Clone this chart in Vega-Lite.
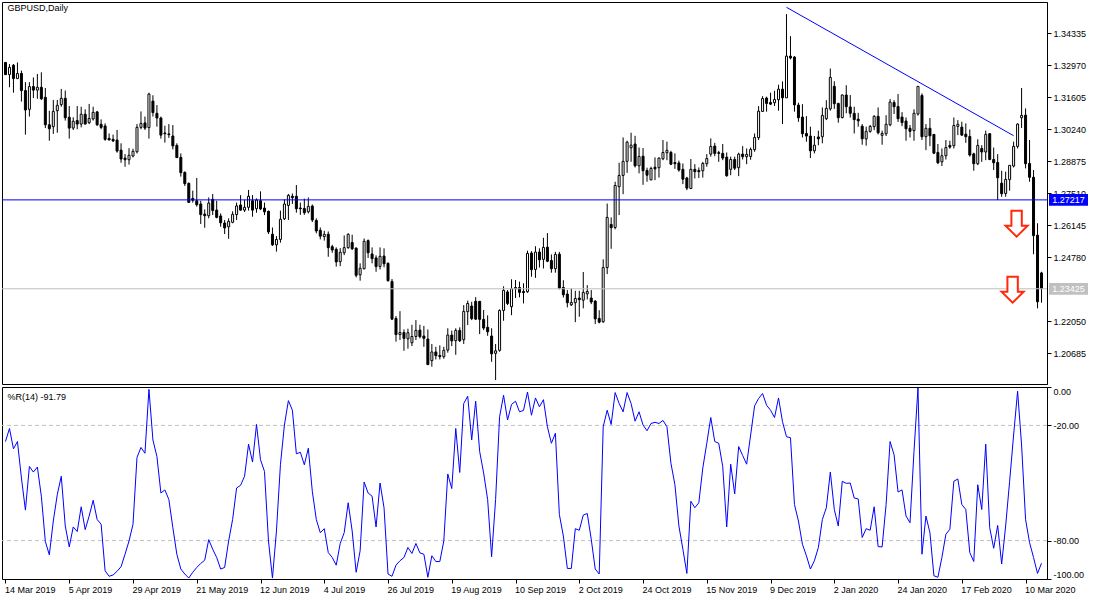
{"$schema":"https://vega.github.io/schema/vega-lite/v6.json","background":"white","padding":{"left":1,"top":1,"right":0,"bottom":0},"spacing":0,"config":{"view":{"stroke":"black","strokeWidth":1},"font":"Liberation Sans","axis":{"labelFont":"Liberation Sans","labelFontSize":9,"labelColor":"black","tickColor":"black","domainColor":"black","grid":false,"title":null,"tickSize":4,"labelOverlap":false,"labelFlush":false,"labelBound":false}},
"datasets":{"bars":[
{"d":"14 Mar 2019","o":1.3308,"h":1.3308,"l":1.3256,"c":1.3256,"r":-28.4},
{"d":"15 Mar 2019","o":1.3256,"h":1.3301,"l":1.3202,"c":1.3287,"r":-21.6},
{"d":"18 Mar 2019","o":1.3296,"h":1.3301,"l":1.3179,"c":1.3239,"r":-32.2},
{"d":"19 Mar 2019","o":1.3239,"h":1.3308,"l":1.3239,"c":1.3261,"r":-28.4},
{"d":"20 Mar 2019","o":1.3261,"h":1.3273,"l":1.3141,"c":1.3188,"r":-47.4},
{"d":"21 Mar 2019","o":1.3188,"h":1.3224,"l":1.3,"c":1.3105,"r":-64.1},
{"d":"22 Mar 2019","o":1.3108,"h":1.3224,"l":1.3077,"c":1.3205,"r":-41.4},
{"d":"25 Mar 2019","o":1.3205,"h":1.3244,"l":1.3156,"c":1.319,"r":-44.3},
{"d":"26 Mar 2019","o":1.319,"h":1.3259,"l":1.3153,"c":1.3202,"r":-41.7},
{"d":"27 Mar 2019","o":1.3202,"h":1.3266,"l":1.3148,"c":1.3153,"r":-56.9},
{"d":"28 Mar 2019","o":1.3159,"h":1.3199,"l":1.3028,"c":1.3042,"r":-80.5},
{"d":"29 Mar 2019","o":1.3042,"h":1.3102,"l":1.2974,"c":1.3025,"r":-87.4},
{"d":"1 Apr 2019","o":1.3034,"h":1.3148,"l":1.3003,"c":1.3099,"r":-69.8},
{"d":"2 Apr 2019","o":1.3102,"h":1.3148,"l":1.3008,"c":1.3125,"r":-56.0},
{"d":"3 Apr 2019","o":1.3128,"h":1.3195,"l":1.3119,"c":1.3155,"r":-46.5},
{"d":"4 Apr 2019","o":1.3155,"h":1.3188,"l":1.306,"c":1.3072,"r":-72.4},
{"d":"5 Apr 2019","o":1.3074,"h":1.3122,"l":1.2983,"c":1.3028,"r":-83.3},
{"d":"8 Apr 2019","o":1.3028,"h":1.3074,"l":1.302,"c":1.3057,"r":-72.9},
{"d":"9 Apr 2019","o":1.306,"h":1.3122,"l":1.3023,"c":1.3045,"r":-75.3},
{"d":"10 Apr 2019","o":1.3045,"h":1.3119,"l":1.3031,"c":1.3087,"r":-62.4},
{"d":"11 Apr 2019","o":1.3087,"h":1.3108,"l":1.3045,"c":1.3045,"r":-74.3},
{"d":"12 Apr 2019","o":1.3051,"h":1.3131,"l":1.3045,"c":1.3069,"r":-67.2},
{"d":"15 Apr 2019","o":1.3067,"h":1.3119,"l":1.306,"c":1.3095,"r":-59.0},
{"d":"16 Apr 2019","o":1.3097,"h":1.3101,"l":1.3037,"c":1.3042,"r":-69.0},
{"d":"17 Apr 2019","o":1.3044,"h":1.3065,"l":1.3023,"c":1.3031,"r":-71.5},
{"d":"18 Apr 2019","o":1.3037,"h":1.3048,"l":1.2974,"c":1.298,"r":-95.7},
{"d":"19 Apr 2019","o":1.2984,"h":1.3005,"l":1.2977,"c":1.2977,"r":-98.6},
{"d":"22 Apr 2019","o":1.298,"h":1.3,"l":1.2969,"c":1.2973,"r":-97.9},
{"d":"23 Apr 2019","o":1.2977,"h":1.302,"l":1.2923,"c":1.293,"r":-96.0},
{"d":"24 Apr 2019","o":1.2934,"h":1.2963,"l":1.288,"c":1.2896,"r":-93.6},
{"d":"25 Apr 2019","o":1.29,"h":1.2917,"l":1.2863,"c":1.2893,"r":-87.1},
{"d":"26 Apr 2019","o":1.2893,"h":1.2942,"l":1.2872,"c":1.2912,"r":-80.2},
{"d":"29 Apr 2019","o":1.2909,"h":1.294,"l":1.2903,"c":1.2929,"r":-71.5},
{"d":"30 Apr 2019","o":1.2927,"h":1.3045,"l":1.292,"c":1.3031,"r":-36.7},
{"d":"1 May 2019","o":1.3031,"h":1.3099,"l":1.3023,"c":1.3048,"r":-31.5},
{"d":"2 May 2019","o":1.305,"h":1.3077,"l":1.302,"c":1.3028,"r":-34.5},
{"d":"3 May 2019","o":1.303,"h":1.3179,"l":1.2983,"c":1.3173,"r":-1.2},
{"d":"6 May 2019","o":1.3143,"h":1.3168,"l":1.3077,"c":1.3094,"r":-27.6},
{"d":"7 May 2019","o":1.3091,"h":1.3126,"l":1.3034,"c":1.3071,"r":-36.2},
{"d":"8 May 2019","o":1.3071,"h":1.3077,"l":1.2983,"c":1.2998,"r":-55.2},
{"d":"9 May 2019","o":1.3007,"h":1.3038,"l":1.2966,"c":1.3004,"r":-53.6},
{"d":"10 May 2019","o":1.3003,"h":1.3045,"l":1.2986,"c":1.3,"r":-58.6},
{"d":"13 May 2019","o":1.2994,"h":1.3041,"l":1.2937,"c":1.2952,"r":-73.3},
{"d":"14 May 2019","o":1.2954,"h":1.2963,"l":1.2902,"c":1.2902,"r":-87.1},
{"d":"15 May 2019","o":1.2903,"h":1.292,"l":1.2821,"c":1.2838,"r":-94.8},
{"d":"16 May 2019","o":1.2839,"h":1.2843,"l":1.2781,"c":1.2791,"r":-97.4},
{"d":"17 May 2019","o":1.2792,"h":1.2796,"l":1.271,"c":1.2711,"r":-99.5},
{"d":"20 May 2019","o":1.2728,"h":1.2761,"l":1.271,"c":1.272,"r":-96.5},
{"d":"21 May 2019","o":1.2718,"h":1.2815,"l":1.2693,"c":1.2701,"r":-94.0},
{"d":"22 May 2019","o":1.2704,"h":1.2718,"l":1.2619,"c":1.2659,"r":-91.9},
{"d":"23 May 2019","o":1.2661,"h":1.2681,"l":1.2603,"c":1.2654,"r":-90.2},
{"d":"24 May 2019","o":1.2654,"h":1.2732,"l":1.2643,"c":1.2708,"r":-79.5},
{"d":"27 May 2019","o":1.2724,"h":1.2747,"l":1.2657,"c":1.2676,"r":-84.5},
{"d":"28 May 2019","o":1.2678,"h":1.2718,"l":1.2643,"c":1.2647,"r":-88.8},
{"d":"29 May 2019","o":1.2653,"h":1.2664,"l":1.2607,"c":1.2624,"r":-94.8},
{"d":"30 May 2019","o":1.2623,"h":1.2636,"l":1.2576,"c":1.2602,"r":-94.0},
{"d":"31 May 2019","o":1.2607,"h":1.2643,"l":1.2556,"c":1.263,"r":-80.2},
{"d":"3 Jun 2019","o":1.2626,"h":1.2673,"l":1.2622,"c":1.266,"r":-69.0},
{"d":"4 Jun 2019","o":1.2659,"h":1.271,"l":1.2636,"c":1.2696,"r":-52.6},
{"d":"5 Jun 2019","o":1.27,"h":1.2742,"l":1.2676,"c":1.2678,"r":-51.2},
{"d":"6 Jun 2019","o":1.2678,"h":1.2721,"l":1.267,"c":1.269,"r":-46.5},
{"d":"7 Jun 2019","o":1.269,"h":1.2764,"l":1.2676,"c":1.2737,"r":-29.8},
{"d":"10 Jun 2019","o":1.2718,"h":1.2742,"l":1.265,"c":1.2678,"r":-39.1},
{"d":"11 Jun 2019","o":1.2684,"h":1.2728,"l":1.2667,"c":1.2721,"r":-19.5},
{"d":"12 Jun 2019","o":1.2718,"h":1.2758,"l":1.2678,"c":1.2683,"r":-37.9},
{"d":"13 Jun 2019","o":1.2687,"h":1.271,"l":1.2657,"c":1.2671,"r":-44.0},
{"d":"14 Jun 2019","o":1.2673,"h":1.2676,"l":1.2576,"c":1.2585,"r":-80.2},
{"d":"17 Jun 2019","o":1.2575,"h":1.2604,"l":1.2525,"c":1.253,"r":-99.5},
{"d":"18 Jun 2019","o":1.253,"h":1.2567,"l":1.2501,"c":1.2553,"r":-75.0},
{"d":"19 Jun 2019","o":1.2553,"h":1.2676,"l":1.2539,"c":1.2639,"r":-40.5},
{"d":"20 Jun 2019","o":1.2641,"h":1.2724,"l":1.2636,"c":1.2704,"r":-19.8},
{"d":"21 Jun 2019","o":1.2698,"h":1.2747,"l":1.2636,"c":1.2741,"r":-7.1},
{"d":"24 Jun 2019","o":1.2737,"h":1.2749,"l":1.2704,"c":1.2731,"r":-12.1},
{"d":"25 Jun 2019","o":1.2737,"h":1.2785,"l":1.2667,"c":1.2684,"r":-34.8},
{"d":"26 Jun 2019","o":1.2687,"h":1.271,"l":1.2658,"c":1.2684,"r":-34.0},
{"d":"27 Jun 2019","o":1.2685,"h":1.2727,"l":1.2658,"c":1.2667,"r":-40.5},
{"d":"28 Jun 2019","o":1.2671,"h":1.2732,"l":1.2664,"c":1.2694,"r":-31.9},
{"d":"1 Jul 2019","o":1.2695,"h":1.2702,"l":1.2627,"c":1.2636,"r":-54.3},
{"d":"2 Jul 2019","o":1.2634,"h":1.2643,"l":1.2579,"c":1.2589,"r":-69.0},
{"d":"3 Jul 2019","o":1.2592,"h":1.2604,"l":1.2553,"c":1.2567,"r":-75.9},
{"d":"4 Jul 2019","o":1.2565,"h":1.259,"l":1.2548,"c":1.2575,"r":-73.8},
{"d":"5 Jul 2019","o":1.2575,"h":1.2587,"l":1.2479,"c":1.2518,"r":-86.2},
{"d":"8 Jul 2019","o":1.2522,"h":1.253,"l":1.2496,"c":1.2508,"r":-88.8},
{"d":"9 Jul 2019","o":1.2511,"h":1.2519,"l":1.2437,"c":1.2457,"r":-92.8},
{"d":"10 Jul 2019","o":1.2458,"h":1.2516,"l":1.2439,"c":1.2498,"r":-81.5},
{"d":"11 Jul 2019","o":1.2496,"h":1.257,"l":1.2486,"c":1.2518,"r":-75.9},
{"d":"12 Jul 2019","o":1.2518,"h":1.2579,"l":1.2513,"c":1.2575,"r":-60.3},
{"d":"15 Jul 2019","o":1.254,"h":1.2573,"l":1.2508,"c":1.2513,"r":-75.0},
{"d":"16 Jul 2019","o":1.2516,"h":1.2519,"l":1.2391,"c":1.24,"r":-96.5},
{"d":"17 Jul 2019","o":1.2402,"h":1.2451,"l":1.2377,"c":1.243,"r":-85.3},
{"d":"18 Jul 2019","o":1.2428,"h":1.2557,"l":1.2425,"c":1.2545,"r":-49.5},
{"d":"19 Jul 2019","o":1.2548,"h":1.2553,"l":1.2474,"c":1.2496,"r":-55.2},
{"d":"22 Jul 2019","o":1.2491,"h":1.2519,"l":1.2451,"c":1.2471,"r":-56.9},
{"d":"23 Jul 2019","o":1.2474,"h":1.2485,"l":1.2415,"c":1.2437,"r":-72.9},
{"d":"24 Jul 2019","o":1.2438,"h":1.2519,"l":1.2425,"c":1.2481,"r":-50.0},
{"d":"25 Jul 2019","o":1.2482,"h":1.2515,"l":1.2434,"c":1.2449,"r":-62.9},
{"d":"26 Jul 2019","o":1.2451,"h":1.2455,"l":1.2373,"c":1.2377,"r":-97.4},
{"d":"29 Jul 2019","o":1.2374,"h":1.2384,"l":1.2209,"c":1.2213,"r":-98.6},
{"d":"30 Jul 2019","o":1.2216,"h":1.2226,"l":1.2117,"c":1.2147,"r":-92.8},
{"d":"31 Jul 2019","o":1.2147,"h":1.2247,"l":1.2124,"c":1.2156,"r":-90.5},
{"d":"1 Aug 2019","o":1.2156,"h":1.2169,"l":1.2078,"c":1.2131,"r":-88.8},
{"d":"2 Aug 2019","o":1.2129,"h":1.2172,"l":1.2087,"c":1.2155,"r":-83.6},
{"d":"5 Aug 2019","o":1.2112,"h":1.2189,"l":1.2098,"c":1.2139,"r":-86.7},
{"d":"6 Aug 2019","o":1.2139,"h":1.2209,"l":1.2124,"c":1.2165,"r":-81.5},
{"d":"7 Aug 2019","o":1.2166,"h":1.2189,"l":1.2131,"c":1.2138,"r":-86.4},
{"d":"8 Aug 2019","o":1.2141,"h":1.2184,"l":1.2095,"c":1.2131,"r":-87.1},
{"d":"9 Aug 2019","o":1.2128,"h":1.2169,"l":1.2019,"c":1.2019,"r":-99.1},
{"d":"12 Aug 2019","o":1.2036,"h":1.2107,"l":1.201,"c":1.2073,"r":-87.9},
{"d":"13 Aug 2019","o":1.2073,"h":1.2095,"l":1.2041,"c":1.2057,"r":-90.9},
{"d":"14 Aug 2019","o":1.2058,"h":1.2101,"l":1.2041,"c":1.2053,"r":-90.9},
{"d":"15 Aug 2019","o":1.2053,"h":1.2095,"l":1.2044,"c":1.208,"r":-80.2},
{"d":"16 Aug 2019","o":1.2081,"h":1.2174,"l":1.207,"c":1.2145,"r":-45.3},
{"d":"19 Aug 2019","o":1.2145,"h":1.2164,"l":1.2098,"c":1.212,"r":-52.9},
{"d":"20 Aug 2019","o":1.2121,"h":1.2174,"l":1.2061,"c":1.2165,"r":-21.6},
{"d":"21 Aug 2019","o":1.2165,"h":1.2178,"l":1.2115,"c":1.2121,"r":-44.5},
{"d":"22 Aug 2019","o":1.2125,"h":1.2273,"l":1.2107,"c":1.2246,"r":-8.6},
{"d":"23 Aug 2019","o":1.2245,"h":1.2292,"l":1.2188,"c":1.228,"r":-4.8},
{"d":"26 Aug 2019","o":1.2269,"h":1.2287,"l":1.2209,"c":1.2215,"r":-27.6},
{"d":"27 Aug 2019","o":1.2289,"h":1.2307,"l":1.2209,"c":1.2213,"r":-7.4},
{"d":"28 Aug 2019","o":1.2289,"h":1.229,"l":1.2149,"c":1.2212,"r":-33.6},
{"d":"29 Aug 2019","o":1.2212,"h":1.2252,"l":1.2166,"c":1.2175,"r":-44.8},
{"d":"30 Aug 2019","o":1.2178,"h":1.2229,"l":1.2142,"c":1.2159,"r":-58.6},
{"d":"2 Sep 2019","o":1.2141,"h":1.2174,"l":1.2031,"c":1.2065,"r":-88.4},
{"d":"3 Sep 2019","o":1.2067,"h":1.2107,"l":1.1953,"c":1.2078,"r":-58.6},
{"d":"4 Sep 2019","o":1.208,"h":1.2255,"l":1.2074,"c":1.225,"r":-15.5},
{"d":"5 Sep 2019","o":1.225,"h":1.2353,"l":1.2206,"c":1.2336,"r":-4.3},
{"d":"6 Sep 2019","o":1.2329,"h":1.2337,"l":1.2273,"c":1.228,"r":-17.2},
{"d":"9 Sep 2019","o":1.2266,"h":1.2383,"l":1.223,"c":1.2343,"r":-9.1},
{"d":"10 Sep 2019","o":1.2348,"h":1.238,"l":1.2303,"c":1.2343,"r":-7.4},
{"d":"11 Sep 2019","o":1.2348,"h":1.2373,"l":1.2306,"c":1.2327,"r":-12.9},
{"d":"12 Sep 2019","o":1.2331,"h":1.2366,"l":1.228,"c":1.2326,"r":-12.2},
{"d":"13 Sep 2019","o":1.233,"h":1.2505,"l":1.2325,"c":1.2493,"r":-2.6},
{"d":"16 Sep 2019","o":1.2495,"h":1.2503,"l":1.2394,"c":1.2424,"r":-14.7},
{"d":"17 Sep 2019","o":1.2425,"h":1.2524,"l":1.2389,"c":1.2499,"r":-5.7},
{"d":"18 Sep 2019","o":1.2499,"h":1.2515,"l":1.2433,"c":1.2466,"r":-10.3},
{"d":"19 Sep 2019","o":1.2468,"h":1.256,"l":1.2429,"c":1.2519,"r":-6.6},
{"d":"20 Sep 2019","o":1.252,"h":1.258,"l":1.2456,"c":1.246,"r":-20.7},
{"d":"23 Sep 2019","o":1.2463,"h":1.2489,"l":1.2411,"c":1.2428,"r":-29.3},
{"d":"24 Sep 2019","o":1.2428,"h":1.25,"l":1.2411,"c":1.2489,"r":-24.1},
{"d":"25 Sep 2019","o":1.249,"h":1.25,"l":1.234,"c":1.2345,"r":-66.4},
{"d":"26 Sep 2019","o":1.2348,"h":1.2379,"l":1.2305,"c":1.2317,"r":-77.6},
{"d":"27 Sep 2019","o":1.232,"h":1.2337,"l":1.2263,"c":1.2283,"r":-94.5},
{"d":"30 Sep 2019","o":1.2274,"h":1.2344,"l":1.2269,"c":1.2284,"r":-94.5},
{"d":"1 Oct 2019","o":1.2283,"h":1.2334,"l":1.22,"c":1.2301,"r":-73.8},
{"d":"2 Oct 2019","o":1.2303,"h":1.2334,"l":1.2223,"c":1.2296,"r":-74.6},
{"d":"3 Oct 2019","o":1.2294,"h":1.2414,"l":1.2259,"c":1.2327,"r":-66.7},
{"d":"4 Oct 2019","o":1.2321,"h":1.2358,"l":1.2297,"c":1.2331,"r":-65.9},
{"d":"7 Oct 2019","o":1.2303,"h":1.2337,"l":1.2277,"c":1.2286,"r":-79.3},
{"d":"8 Oct 2019","o":1.229,"h":1.2294,"l":1.2192,"c":1.2214,"r":-94.8},
{"d":"9 Oct 2019","o":1.2216,"h":1.2251,"l":1.2195,"c":1.22,"r":-97.4},
{"d":"10 Oct 2019","o":1.2202,"h":1.2468,"l":1.2197,"c":1.2433,"r":-20.7},
{"d":"11 Oct 2019","o":1.2433,"h":1.2706,"l":1.2405,"c":1.2647,"r":-12.1},
{"d":"14 Oct 2019","o":1.2617,"h":1.2647,"l":1.2513,"c":1.2603,"r":-19.5},
{"d":"15 Oct 2019","o":1.2604,"h":1.2799,"l":1.2596,"c":1.2783,"r":-2.9},
{"d":"16 Oct 2019","o":1.2778,"h":1.288,"l":1.2657,"c":1.2826,"r":-8.6},
{"d":"17 Oct 2019","o":1.2826,"h":1.2988,"l":1.2746,"c":1.2886,"r":-12.9},
{"d":"18 Oct 2019","o":1.2886,"h":1.2974,"l":1.2837,"c":1.2968,"r":-2.9},
{"d":"21 Oct 2019","o":1.2944,"h":1.3008,"l":1.2884,"c":1.2955,"r":-8.6},
{"d":"22 Oct 2019","o":1.296,"h":1.2995,"l":1.286,"c":1.2867,"r":-17.8},
{"d":"23 Oct 2019","o":1.2867,"h":1.2945,"l":1.2835,"c":1.2907,"r":-12.9},
{"d":"24 Oct 2019","o":1.2908,"h":1.2943,"l":1.2786,"c":1.2846,"r":-19.8},
{"d":"25 Oct 2019","o":1.2847,"h":1.2859,"l":1.2799,"c":1.2827,"r":-22.8},
{"d":"28 Oct 2019","o":1.2807,"h":1.2863,"l":1.2806,"c":1.2856,"r":-19.0},
{"d":"29 Oct 2019","o":1.2861,"h":1.2903,"l":1.2806,"c":1.2854,"r":-18.4},
{"d":"30 Oct 2019","o":1.2859,"h":1.2903,"l":1.2817,"c":1.29,"r":-19.0},
{"d":"31 Oct 2019","o":1.2897,"h":1.2977,"l":1.2891,"c":1.2924,"r":-17.4},
{"d":"1 Nov 2019","o":1.2923,"h":1.297,"l":1.2891,"c":1.2933,"r":-20.7},
{"d":"4 Nov 2019","o":1.2924,"h":1.2931,"l":1.287,"c":1.2874,"r":-39.7},
{"d":"5 Nov 2019","o":1.2881,"h":1.292,"l":1.2854,"c":1.2876,"r":-50.9},
{"d":"6 Nov 2019","o":1.2879,"h":1.2889,"l":1.2842,"c":1.2849,"r":-72.4},
{"d":"7 Nov 2019","o":1.2852,"h":1.2877,"l":1.2789,"c":1.281,"r":-84.5},
{"d":"8 Nov 2019","o":1.2815,"h":1.282,"l":1.2763,"c":1.2772,"r":-97.1},
{"d":"11 Nov 2019","o":1.277,"h":1.2896,"l":1.2768,"c":1.2852,"r":-59.5},
{"d":"12 Nov 2019","o":1.2852,"h":1.2874,"l":1.2813,"c":1.2842,"r":-62.9},
{"d":"13 Nov 2019","o":1.2847,"h":1.286,"l":1.2815,"c":1.2842,"r":-60.3},
{"d":"14 Nov 2019","o":1.2846,"h":1.2884,"l":1.2817,"c":1.2877,"r":-42.2},
{"d":"15 Nov 2019","o":1.2876,"h":1.2917,"l":1.2863,"c":1.2898,"r":-29.3},
{"d":"18 Nov 2019","o":1.2917,"h":1.2984,"l":1.2906,"c":1.295,"r":-15.9},
{"d":"19 Nov 2019","o":1.2951,"h":1.2965,"l":1.2908,"c":1.292,"r":-28.4},
{"d":"20 Nov 2019","o":1.2923,"h":1.2931,"l":1.2884,"c":1.292,"r":-29.3},
{"d":"21 Nov 2019","o":1.292,"h":1.296,"l":1.2891,"c":1.29,"r":-41.4},
{"d":"22 Nov 2019","o":1.2904,"h":1.2924,"l":1.282,"c":1.2825,"r":-72.9},
{"d":"25 Nov 2019","o":1.2852,"h":1.2906,"l":1.2827,"c":1.2894,"r":-40.2},
{"d":"26 Nov 2019","o":1.2894,"h":1.2906,"l":1.2849,"c":1.2857,"r":-55.7},
{"d":"27 Nov 2019","o":1.2859,"h":1.2923,"l":1.2823,"c":1.2917,"r":-31.0},
{"d":"28 Nov 2019","o":1.2917,"h":1.2951,"l":1.2894,"c":1.2906,"r":-35.7},
{"d":"29 Nov 2019","o":1.2906,"h":1.2941,"l":1.2874,"c":1.2916,"r":-40.2},
{"d":"2 Dec 2019","o":1.2907,"h":1.2945,"l":1.2893,"c":1.2937,"r":-25.0},
{"d":"3 Dec 2019","o":1.2936,"h":1.3005,"l":1.2927,"c":1.2988,"r":-9.8},
{"d":"4 Dec 2019","o":1.2987,"h":1.3122,"l":1.2977,"c":1.31,"r":-6.0},
{"d":"5 Dec 2019","o":1.3099,"h":1.3164,"l":1.3098,"c":1.3154,"r":-3.4},
{"d":"6 Dec 2019","o":1.3156,"h":1.3162,"l":1.3098,"c":1.3133,"r":-9.5},
{"d":"9 Dec 2019","o":1.3137,"h":1.3179,"l":1.3126,"c":1.313,"r":-12.1},
{"d":"10 Dec 2019","o":1.3136,"h":1.3187,"l":1.3122,"c":1.315,"r":-15.9},
{"d":"11 Dec 2019","o":1.3149,"h":1.3213,"l":1.3102,"c":1.3194,"r":-5.7},
{"d":"12 Dec 2019","o":1.3194,"h":1.3227,"l":1.3045,"c":1.3157,"r":-18.1},
{"d":"13 Dec 2019","o":1.3157,"h":1.3514,"l":1.3157,"c":1.3335,"r":-25.9},
{"d":"16 Dec 2019","o":1.3335,"h":1.342,"l":1.3321,"c":1.3327,"r":-26.4},
{"d":"17 Dec 2019","o":1.3331,"h":1.3335,"l":1.3098,"c":1.3127,"r":-61.2},
{"d":"18 Dec 2019","o":1.3126,"h":1.3136,"l":1.3055,"c":1.3072,"r":-69.8},
{"d":"19 Dec 2019","o":1.3075,"h":1.313,"l":1.2988,"c":1.3004,"r":-81.9},
{"d":"20 Dec 2019","o":1.3005,"h":1.3079,"l":1.297,"c":1.2994,"r":-87.9},
{"d":"23 Dec 2019","o":1.2994,"h":1.3034,"l":1.29,"c":1.2931,"r":-94.8},
{"d":"24 Dec 2019","o":1.2931,"h":1.2994,"l":1.292,"c":1.2955,"r":-90.5},
{"d":"26 Dec 2019","o":1.299,"h":1.3017,"l":1.2955,"c":1.2982,"r":-83.6},
{"d":"27 Dec 2019","o":1.2991,"h":1.3116,"l":1.2963,"c":1.3082,"r":-69.0},
{"d":"30 Dec 2019","o":1.3068,"h":1.3147,"l":1.3062,"c":1.3112,"r":-62.9},
{"d":"31 Dec 2019","o":1.311,"h":1.3282,"l":1.3102,"c":1.3244,"r":-44.3},
{"d":"2 Jan 2020","o":1.3206,"h":1.3228,"l":1.311,"c":1.3132,"r":-63.8},
{"d":"3 Jan 2020","o":1.3133,"h":1.3136,"l":1.3051,"c":1.3072,"r":-72.4},
{"d":"6 Jan 2020","o":1.3073,"h":1.3172,"l":1.3069,"c":1.3169,"r":-49.1},
{"d":"7 Jan 2020","o":1.3169,"h":1.3211,"l":1.3091,"c":1.3119,"r":-50.2},
{"d":"8 Jan 2020","o":1.3118,"h":1.3169,"l":1.3073,"c":1.3091,"r":-50.0},
{"d":"9 Jan 2020","o":1.3091,"h":1.3119,"l":1.3005,"c":1.3064,"r":-57.8},
{"d":"10 Jan 2020","o":1.3066,"h":1.3093,"l":1.3034,"c":1.3059,"r":-58.3},
{"d":"13 Jan 2020","o":1.3036,"h":1.3045,"l":1.2957,"c":1.2982,"r":-78.4},
{"d":"14 Jan 2020","o":1.2982,"h":1.3034,"l":1.2953,"c":1.3014,"r":-73.8},
{"d":"15 Jan 2020","o":1.3014,"h":1.3041,"l":1.3008,"c":1.3035,"r":-74.6},
{"d":"16 Jan 2020","o":1.3034,"h":1.3083,"l":1.3019,"c":1.3078,"r":-62.4},
{"d":"17 Jan 2020","o":1.3078,"h":1.3116,"l":1.3001,"c":1.3008,"r":-83.1},
{"d":"20 Jan 2020","o":1.2997,"h":1.3017,"l":1.2957,"c":1.3005,"r":-83.3},
{"d":"21 Jan 2020","o":1.3004,"h":1.3083,"l":1.2994,"c":1.3044,"r":-61.2},
{"d":"22 Jan 2020","o":1.3042,"h":1.3152,"l":1.3036,"c":1.3139,"r":-28.4},
{"d":"23 Jan 2020","o":1.3137,"h":1.3147,"l":1.3088,"c":1.3119,"r":-35.3},
{"d":"24 Jan 2020","o":1.312,"h":1.3173,"l":1.3054,"c":1.3068,"r":-54.7},
{"d":"27 Jan 2020","o":1.3075,"h":1.3096,"l":1.3036,"c":1.3051,"r":-53.6},
{"d":"28 Jan 2020","o":1.3058,"h":1.3073,"l":1.2974,"c":1.3025,"r":-67.2},
{"d":"29 Jan 2020","o":1.3027,"h":1.3041,"l":1.2988,"c":1.3014,"r":-70.7},
{"d":"30 Jan 2020","o":1.3017,"h":1.3108,"l":1.2974,"c":1.3091,"r":-33.6},
{"d":"31 Jan 2020","o":1.3088,"h":1.3207,"l":1.3081,"c":1.3206,"r":-0.5},
{"d":"3 Feb 2020","o":1.3167,"h":1.3176,"l":1.2977,"c":1.2991,"r":-87.1},
{"d":"4 Feb 2020","o":1.2991,"h":1.3045,"l":1.2934,"c":1.3027,"r":-67.2},
{"d":"5 Feb 2020","o":1.3027,"h":1.3071,"l":1.2951,"c":1.2995,"r":-75.9},
{"d":"6 Feb 2020","o":1.3001,"h":1.3002,"l":1.2917,"c":1.2921,"r":-98.3},
{"d":"7 Feb 2020","o":1.2924,"h":1.296,"l":1.2874,"c":1.288,"r":-99.1},
{"d":"10 Feb 2020","o":1.2884,"h":1.2941,"l":1.2866,"c":1.291,"r":-88.8},
{"d":"11 Feb 2020","o":1.291,"h":1.2977,"l":1.2894,"c":1.2945,"r":-76.7},
{"d":"12 Feb 2020","o":1.2954,"h":1.2974,"l":1.294,"c":1.2947,"r":-74.1},
{"d":"13 Feb 2020","o":1.2953,"h":1.3073,"l":1.2941,"c":1.3039,"r":-49.1},
{"d":"14 Feb 2020","o":1.3035,"h":1.3062,"l":1.2998,"c":1.3044,"r":-47.9},
{"d":"17 Feb 2020","o":1.3032,"h":1.3055,"l":1.2994,"c":1.2998,"r":-61.2},
{"d":"18 Feb 2020","o":1.3002,"h":1.3048,"l":1.2965,"c":1.2991,"r":-63.8},
{"d":"19 Feb 2020","o":1.2992,"h":1.3022,"l":1.2906,"c":1.2913,"r":-86.2},
{"d":"20 Feb 2020","o":1.2918,"h":1.2923,"l":1.2846,"c":1.2876,"r":-90.9},
{"d":"21 Feb 2020","o":1.2876,"h":1.298,"l":1.287,"c":1.2954,"r":-50.9},
{"d":"24 Feb 2020","o":1.2941,"h":1.2955,"l":1.2884,"c":1.2926,"r":-63.8},
{"d":"25 Feb 2020","o":1.2926,"h":1.3017,"l":1.2891,"c":1.3001,"r":-29.8},
{"d":"26 Feb 2020","o":1.3004,"h":1.3005,"l":1.2891,"c":1.2894,"r":-73.3},
{"d":"27 Feb 2020","o":1.2894,"h":1.2945,"l":1.2849,"c":1.288,"r":-84.0},
{"d":"28 Feb 2020","o":1.2881,"h":1.2917,"l":1.2721,"c":1.2816,"r":-72.1},
{"d":"2 Mar 2020","o":1.2793,"h":1.2846,"l":1.2735,"c":1.2748,"r":-92.2},
{"d":"3 Mar 2020","o":1.2749,"h":1.2842,"l":1.2735,"c":1.2809,"r":-72.4},
{"d":"4 Mar 2020","o":1.2808,"h":1.287,"l":1.2761,"c":1.2869,"r":-49.1},
{"d":"5 Mar 2020","o":1.2866,"h":1.297,"l":1.286,"c":1.295,"r":-25.0},
{"d":"6 Mar 2020","o":1.295,"h":1.3048,"l":1.2941,"c":1.3045,"r":-2.2},
{"d":"9 Mar 2020","o":1.3072,"h":1.3199,"l":1.3028,"c":1.3082,"r":-30.2},
{"d":"10 Mar 2020","o":1.3083,"h":1.3112,"l":1.2856,"c":1.2876,"r":-69.0},
{"d":"11 Mar 2020","o":1.2877,"h":1.2977,"l":1.2799,"c":1.2818,"r":-81.0},
{"d":"12 Mar 2020","o":1.2818,"h":1.2849,"l":1.249,"c":1.2569,"r":-88.8},
{"d":"13 Mar 2020","o":1.2571,"h":1.2622,"l":1.2259,"c":1.2287,"r":-97.1},
{"d":"16 Mar 2020","o":1.241,"h":1.2415,"l":1.2283,"c":1.2343,"r":-91.8}
],
"levels":[{"d":"16 Mar 2020","p":1.27217},{"d":"16 Mar 2020","p":1.23425}],
"trend":[{"d":"13 Dec 2019","p":1.35432},{"d":"5 Mar 2020","p":1.29955}],
"arrows":[{"d":"6 Mar 2020","p":1.26201},{"d":"5 Mar 2020","p":1.23386}],
"note":[{"d":"14 Mar 2019","p":1.354,"t":"GBPUSD,Daily"}],
"note2":[{"d":"14 Mar 2019","p":-5.1,"t":"%R(14) -91.79"}],
"grid":[{"p":-20},{"p":-80}]},
"vconcat":[
{"width":1045,"height":382,
"layer":[
{"data":{"name":"bars"},"mark":{"type":"rule","color":"black","strokeWidth":1},"encoding":{"x":{"field":"d","type":"ordinal","axis":null,"scale":{"type":"point","range":[1.5,1041.5],"domain":["14 Mar 2019","15 Mar 2019","18 Mar 2019","19 Mar 2019","20 Mar 2019","21 Mar 2019","22 Mar 2019","25 Mar 2019","26 Mar 2019","27 Mar 2019","28 Mar 2019","29 Mar 2019","1 Apr 2019","2 Apr 2019","3 Apr 2019","4 Apr 2019","5 Apr 2019","8 Apr 2019","9 Apr 2019","10 Apr 2019","11 Apr 2019","12 Apr 2019","15 Apr 2019","16 Apr 2019","17 Apr 2019","18 Apr 2019","19 Apr 2019","22 Apr 2019","23 Apr 2019","24 Apr 2019","25 Apr 2019","26 Apr 2019","29 Apr 2019","30 Apr 2019","1 May 2019","2 May 2019","3 May 2019","6 May 2019","7 May 2019","8 May 2019","9 May 2019","10 May 2019","13 May 2019","14 May 2019","15 May 2019","16 May 2019","17 May 2019","20 May 2019","21 May 2019","22 May 2019","23 May 2019","24 May 2019","27 May 2019","28 May 2019","29 May 2019","30 May 2019","31 May 2019","3 Jun 2019","4 Jun 2019","5 Jun 2019","6 Jun 2019","7 Jun 2019","10 Jun 2019","11 Jun 2019","12 Jun 2019","13 Jun 2019","14 Jun 2019","17 Jun 2019","18 Jun 2019","19 Jun 2019","20 Jun 2019","21 Jun 2019","24 Jun 2019","25 Jun 2019","26 Jun 2019","27 Jun 2019","28 Jun 2019","1 Jul 2019","2 Jul 2019","3 Jul 2019","4 Jul 2019","5 Jul 2019","8 Jul 2019","9 Jul 2019","10 Jul 2019","11 Jul 2019","12 Jul 2019","15 Jul 2019","16 Jul 2019","17 Jul 2019","18 Jul 2019","19 Jul 2019","22 Jul 2019","23 Jul 2019","24 Jul 2019","25 Jul 2019","26 Jul 2019","29 Jul 2019","30 Jul 2019","31 Jul 2019","1 Aug 2019","2 Aug 2019","5 Aug 2019","6 Aug 2019","7 Aug 2019","8 Aug 2019","9 Aug 2019","12 Aug 2019","13 Aug 2019","14 Aug 2019","15 Aug 2019","16 Aug 2019","19 Aug 2019","20 Aug 2019","21 Aug 2019","22 Aug 2019","23 Aug 2019","26 Aug 2019","27 Aug 2019","28 Aug 2019","29 Aug 2019","30 Aug 2019","2 Sep 2019","3 Sep 2019","4 Sep 2019","5 Sep 2019","6 Sep 2019","9 Sep 2019","10 Sep 2019","11 Sep 2019","12 Sep 2019","13 Sep 2019","16 Sep 2019","17 Sep 2019","18 Sep 2019","19 Sep 2019","20 Sep 2019","23 Sep 2019","24 Sep 2019","25 Sep 2019","26 Sep 2019","27 Sep 2019","30 Sep 2019","1 Oct 2019","2 Oct 2019","3 Oct 2019","4 Oct 2019","7 Oct 2019","8 Oct 2019","9 Oct 2019","10 Oct 2019","11 Oct 2019","14 Oct 2019","15 Oct 2019","16 Oct 2019","17 Oct 2019","18 Oct 2019","21 Oct 2019","22 Oct 2019","23 Oct 2019","24 Oct 2019","25 Oct 2019","28 Oct 2019","29 Oct 2019","30 Oct 2019","31 Oct 2019","1 Nov 2019","4 Nov 2019","5 Nov 2019","6 Nov 2019","7 Nov 2019","8 Nov 2019","11 Nov 2019","12 Nov 2019","13 Nov 2019","14 Nov 2019","15 Nov 2019","18 Nov 2019","19 Nov 2019","20 Nov 2019","21 Nov 2019","22 Nov 2019","25 Nov 2019","26 Nov 2019","27 Nov 2019","28 Nov 2019","29 Nov 2019","2 Dec 2019","3 Dec 2019","4 Dec 2019","5 Dec 2019","6 Dec 2019","9 Dec 2019","10 Dec 2019","11 Dec 2019","12 Dec 2019","13 Dec 2019","16 Dec 2019","17 Dec 2019","18 Dec 2019","19 Dec 2019","20 Dec 2019","23 Dec 2019","24 Dec 2019","26 Dec 2019","27 Dec 2019","30 Dec 2019","31 Dec 2019","2 Jan 2020","3 Jan 2020","6 Jan 2020","7 Jan 2020","8 Jan 2020","9 Jan 2020","10 Jan 2020","13 Jan 2020","14 Jan 2020","15 Jan 2020","16 Jan 2020","17 Jan 2020","20 Jan 2020","21 Jan 2020","22 Jan 2020","23 Jan 2020","24 Jan 2020","27 Jan 2020","28 Jan 2020","29 Jan 2020","30 Jan 2020","31 Jan 2020","3 Feb 2020","4 Feb 2020","5 Feb 2020","6 Feb 2020","7 Feb 2020","10 Feb 2020","11 Feb 2020","12 Feb 2020","13 Feb 2020","14 Feb 2020","17 Feb 2020","18 Feb 2020","19 Feb 2020","20 Feb 2020","21 Feb 2020","24 Feb 2020","25 Feb 2020","26 Feb 2020","27 Feb 2020","28 Feb 2020","2 Mar 2020","3 Mar 2020","4 Mar 2020","5 Mar 2020","6 Mar 2020","9 Mar 2020","10 Mar 2020","11 Mar 2020","12 Mar 2020","13 Mar 2020","16 Mar 2020"]}},"y":{"field":"l","type":"quantitative","scale":{"domain":[1.19363,1.35658],"nice":false,"zero":false},"axis":{"orient":"right","values":[1.34335,1.3297,1.31605,1.3024,1.28875,1.2751,1.26145,1.2478,1.2205,1.20685],"format":".5f","labelPadding":2}},"y2":{"field":"h"}}},
{"data":{"name":"bars"},"mark":{"type":"bar","size":2,"stroke":"black","strokeWidth":1},"encoding":{"x":{"field":"d","type":"ordinal"},"y":{"field":"o","type":"quantitative"},"y2":{"field":"c"},"fill":{"condition":{"test":"datum.c>datum.o","value":"white"},"value":"black"}}},
{"data":{"name":"trend"},"mark":{"type":"line","color":"#0000ff","strokeWidth":1},"encoding":{"x":{"field":"d","type":"ordinal"},"y":{"field":"p","type":"quantitative"}}},
{"data":{"name":"levels"},"mark":{"type":"rule","strokeWidth":1},"encoding":{"y":{"field":"p","type":"quantitative"},"color":{"condition":{"test":"datum.p>1.25","value":"#0000ff"},"value":"#c0c0c0"}}},
{"data":{"name":"levels"},"mark":{"type":"point","filled":true,"opacity":1,"shape":"M-1,-0.3H1V0.3H-1Z","size":1521,"xOffset":27,"clip":false},"encoding":{"x":{"field":"d","type":"ordinal"},"y":{"field":"p","type":"quantitative"},"color":{"condition":{"test":"datum.p>1.25","value":"#0000ff"},"value":"#c0c0c0"}}},
{"data":{"name":"levels"},"mark":{"type":"text","color":"white","font":"Liberation Sans","fontSize":9,"xOffset":27,"align":"center","baseline":"middle"},"encoding":{"x":{"field":"d","type":"ordinal"},"y":{"field":"p","type":"quantitative"},"text":{"field":"p","type":"quantitative","format":".5f"}}},
{"data":{"name":"arrows"},"mark":{"type":"point","filled":true,"opacity":1,"fill":"white","stroke":"#ff2a0a","strokeWidth":2,"shape":"M-0.4,-1H0.4V0.15H0.85L0,1L-0.85,0.15H-0.4Z","size":676,"xOffset":-1},"encoding":{"x":{"field":"d","type":"ordinal"},"y":{"field":"p","type":"quantitative"}}},
{"data":{"name":"note"},"mark":{"type":"text","color":"black","font":"Liberation Sans","fontSize":9,"align":"left","baseline":"middle","dx":2},"encoding":{"x":{"field":"d","type":"ordinal"},"y":{"field":"p","type":"quantitative"},"text":{"field":"t"}}}
]},
{"width":1045,"height":192,
"layer":[
{"data":{"name":"grid"},"mark":{"type":"rule","color":"#c0c0c0","strokeWidth":1,"strokeDash":[4,3]},"encoding":{"y":{"field":"p","type":"quantitative","scale":{"domain":[-100,0],"nice":false,"zero":false},"axis":{"orient":"right","values":[0,-20,-80,-100],"labelExpr":"replace(format(datum.value,'.2f'),'−','-')","labelPadding":2,"labelBaseline":{"condition":[{"test":"datum.value==0","value":"top"},{"test":"datum.value==-100","value":"bottom"}],"value":"middle"}}}}},
{"data":{"name":"bars"},"mark":{"type":"line","color":"#0000ff","strokeWidth":1},"encoding":{"x":{"field":"d","type":"ordinal","axis":{"values":["14 Mar 2019","5 Apr 2019","29 Apr 2019","21 May 2019","12 Jun 2019","4 Jul 2019","26 Jul 2019","19 Aug 2019","10 Sep 2019","2 Oct 2019","24 Oct 2019","15 Nov 2019","9 Dec 2019","2 Jan 2020","24 Jan 2020","17 Feb 2020","10 Mar 2020"],"labelAngle":0,"labelAlign":"left","labelPadding":2,"labelOffset":-1,"domain":false},"scale":{"type":"point","range":[1.5,1041.5],"domain":["14 Mar 2019","15 Mar 2019","18 Mar 2019","19 Mar 2019","20 Mar 2019","21 Mar 2019","22 Mar 2019","25 Mar 2019","26 Mar 2019","27 Mar 2019","28 Mar 2019","29 Mar 2019","1 Apr 2019","2 Apr 2019","3 Apr 2019","4 Apr 2019","5 Apr 2019","8 Apr 2019","9 Apr 2019","10 Apr 2019","11 Apr 2019","12 Apr 2019","15 Apr 2019","16 Apr 2019","17 Apr 2019","18 Apr 2019","19 Apr 2019","22 Apr 2019","23 Apr 2019","24 Apr 2019","25 Apr 2019","26 Apr 2019","29 Apr 2019","30 Apr 2019","1 May 2019","2 May 2019","3 May 2019","6 May 2019","7 May 2019","8 May 2019","9 May 2019","10 May 2019","13 May 2019","14 May 2019","15 May 2019","16 May 2019","17 May 2019","20 May 2019","21 May 2019","22 May 2019","23 May 2019","24 May 2019","27 May 2019","28 May 2019","29 May 2019","30 May 2019","31 May 2019","3 Jun 2019","4 Jun 2019","5 Jun 2019","6 Jun 2019","7 Jun 2019","10 Jun 2019","11 Jun 2019","12 Jun 2019","13 Jun 2019","14 Jun 2019","17 Jun 2019","18 Jun 2019","19 Jun 2019","20 Jun 2019","21 Jun 2019","24 Jun 2019","25 Jun 2019","26 Jun 2019","27 Jun 2019","28 Jun 2019","1 Jul 2019","2 Jul 2019","3 Jul 2019","4 Jul 2019","5 Jul 2019","8 Jul 2019","9 Jul 2019","10 Jul 2019","11 Jul 2019","12 Jul 2019","15 Jul 2019","16 Jul 2019","17 Jul 2019","18 Jul 2019","19 Jul 2019","22 Jul 2019","23 Jul 2019","24 Jul 2019","25 Jul 2019","26 Jul 2019","29 Jul 2019","30 Jul 2019","31 Jul 2019","1 Aug 2019","2 Aug 2019","5 Aug 2019","6 Aug 2019","7 Aug 2019","8 Aug 2019","9 Aug 2019","12 Aug 2019","13 Aug 2019","14 Aug 2019","15 Aug 2019","16 Aug 2019","19 Aug 2019","20 Aug 2019","21 Aug 2019","22 Aug 2019","23 Aug 2019","26 Aug 2019","27 Aug 2019","28 Aug 2019","29 Aug 2019","30 Aug 2019","2 Sep 2019","3 Sep 2019","4 Sep 2019","5 Sep 2019","6 Sep 2019","9 Sep 2019","10 Sep 2019","11 Sep 2019","12 Sep 2019","13 Sep 2019","16 Sep 2019","17 Sep 2019","18 Sep 2019","19 Sep 2019","20 Sep 2019","23 Sep 2019","24 Sep 2019","25 Sep 2019","26 Sep 2019","27 Sep 2019","30 Sep 2019","1 Oct 2019","2 Oct 2019","3 Oct 2019","4 Oct 2019","7 Oct 2019","8 Oct 2019","9 Oct 2019","10 Oct 2019","11 Oct 2019","14 Oct 2019","15 Oct 2019","16 Oct 2019","17 Oct 2019","18 Oct 2019","21 Oct 2019","22 Oct 2019","23 Oct 2019","24 Oct 2019","25 Oct 2019","28 Oct 2019","29 Oct 2019","30 Oct 2019","31 Oct 2019","1 Nov 2019","4 Nov 2019","5 Nov 2019","6 Nov 2019","7 Nov 2019","8 Nov 2019","11 Nov 2019","12 Nov 2019","13 Nov 2019","14 Nov 2019","15 Nov 2019","18 Nov 2019","19 Nov 2019","20 Nov 2019","21 Nov 2019","22 Nov 2019","25 Nov 2019","26 Nov 2019","27 Nov 2019","28 Nov 2019","29 Nov 2019","2 Dec 2019","3 Dec 2019","4 Dec 2019","5 Dec 2019","6 Dec 2019","9 Dec 2019","10 Dec 2019","11 Dec 2019","12 Dec 2019","13 Dec 2019","16 Dec 2019","17 Dec 2019","18 Dec 2019","19 Dec 2019","20 Dec 2019","23 Dec 2019","24 Dec 2019","26 Dec 2019","27 Dec 2019","30 Dec 2019","31 Dec 2019","2 Jan 2020","3 Jan 2020","6 Jan 2020","7 Jan 2020","8 Jan 2020","9 Jan 2020","10 Jan 2020","13 Jan 2020","14 Jan 2020","15 Jan 2020","16 Jan 2020","17 Jan 2020","20 Jan 2020","21 Jan 2020","22 Jan 2020","23 Jan 2020","24 Jan 2020","27 Jan 2020","28 Jan 2020","29 Jan 2020","30 Jan 2020","31 Jan 2020","3 Feb 2020","4 Feb 2020","5 Feb 2020","6 Feb 2020","7 Feb 2020","10 Feb 2020","11 Feb 2020","12 Feb 2020","13 Feb 2020","14 Feb 2020","17 Feb 2020","18 Feb 2020","19 Feb 2020","20 Feb 2020","21 Feb 2020","24 Feb 2020","25 Feb 2020","26 Feb 2020","27 Feb 2020","28 Feb 2020","2 Mar 2020","3 Mar 2020","4 Mar 2020","5 Mar 2020","6 Mar 2020","9 Mar 2020","10 Mar 2020","11 Mar 2020","12 Mar 2020","13 Mar 2020","16 Mar 2020"]}},"y":{"field":"r","type":"quantitative"}}},
{"data":{"name":"note2"},"mark":{"type":"text","color":"black","font":"Liberation Sans","fontSize":9,"align":"left","baseline":"middle","dx":2},"encoding":{"x":{"field":"d","type":"ordinal"},"y":{"field":"p","type":"quantitative"},"text":{"field":"t"}}}
]}
]}
